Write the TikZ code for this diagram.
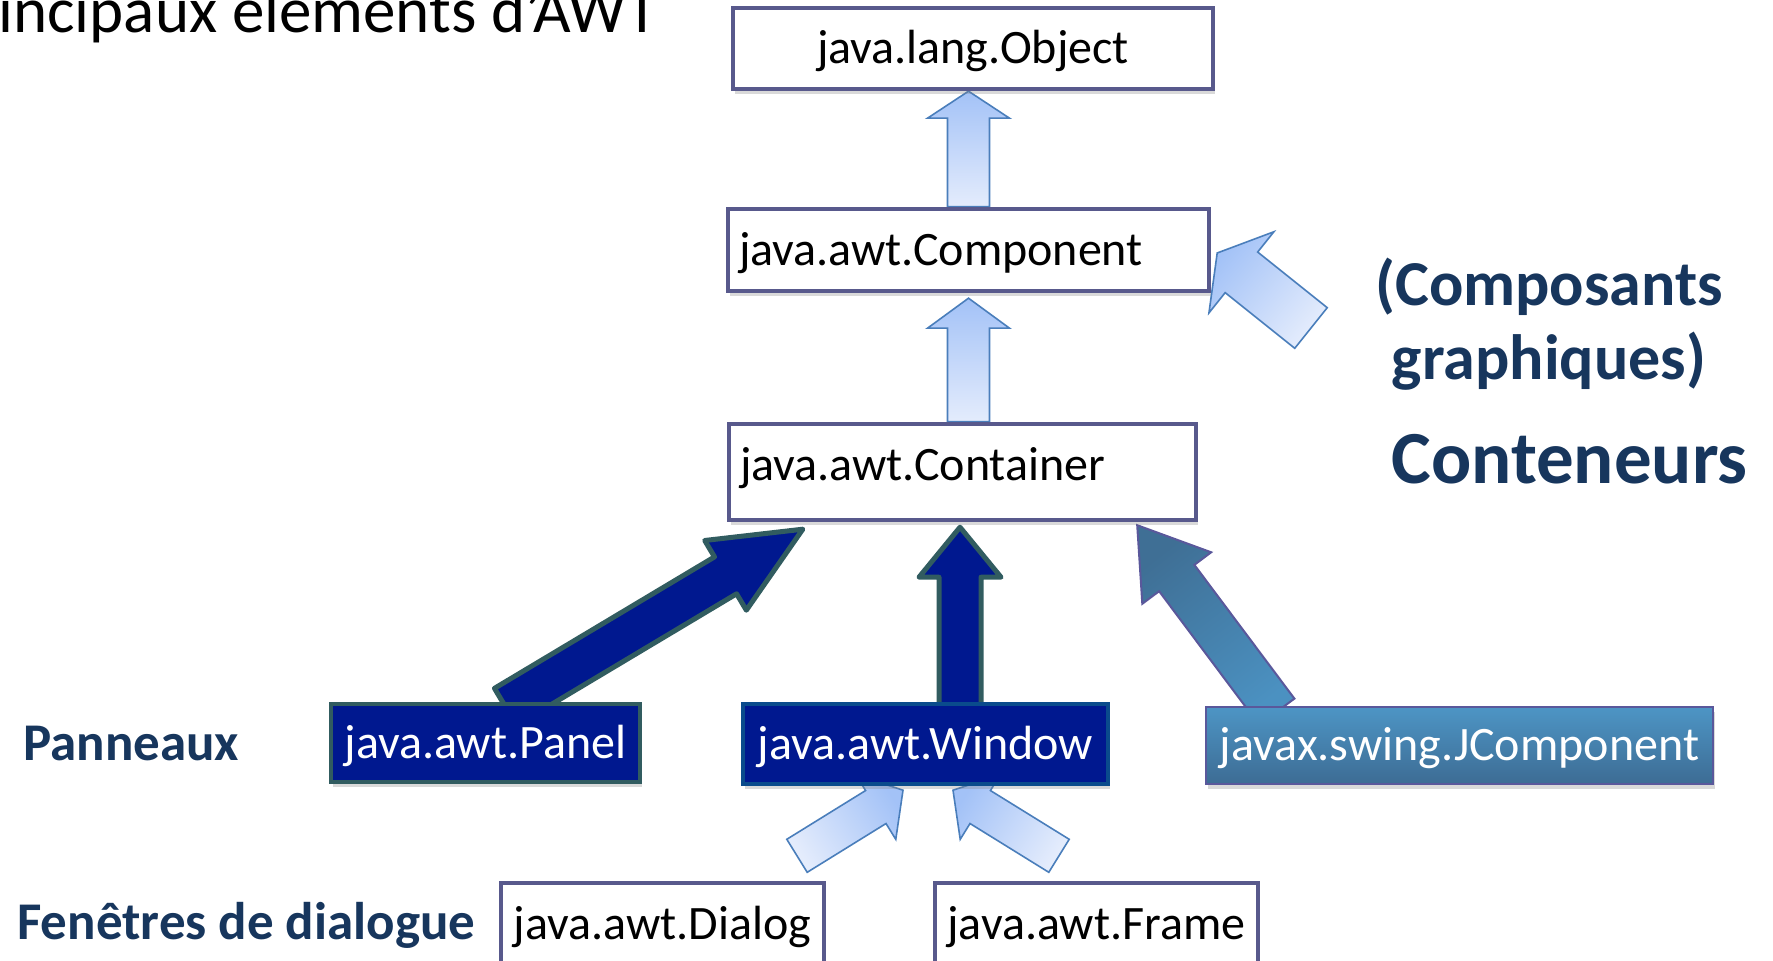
\documentclass[tikz,border=0pt]{standalone}
\usepackage{fontspec}
\setmainfont{Carlito}
\usetikzlibrary{calc,shadows,backgrounds}

\definecolor{boxline}{RGB}{88,89,140}
\definecolor{navy}{RGB}{0,24,143}
\definecolor{tealline}{RGB}{49,92,96}
\definecolor{winline}{RGB}{10,75,140}
\definecolor{arrlight}{RGB}{163,194,247}
\definecolor{arrpale}{RGB}{228,236,252}
\definecolor{arrline}{RGB}{74,126,187}
\definecolor{jtop}{RGB}{77,149,197}
\definecolor{jbot}{RGB}{61,108,148}
\definecolor{jline}{RGB}{90,88,155}
\definecolor{jarrtop}{RGB}{63,111,149}
\definecolor{jarrbot}{RGB}{75,145,193}
\definecolor{lbltext}{RGB}{23,54,93}

% block arrow: [style]{tail}{tip}{half shaft}{half head}{head length}
\newcommand{\blockarrow}[6][]{%
  \coordinate (ba-t) at (#2);
  \coordinate (ba-h) at (#3);
  \coordinate (ba-b) at ($(ba-h)!#6!(ba-t)$);
  \path[#1] ($(ba-t)!#4!90:(ba-h)$) -- ($(ba-b)!#4!-90:(ba-t)$)
    -- ($(ba-b)!#5!-90:(ba-t)$) -- (ba-h) -- ($(ba-b)!#5!90:(ba-t)$)
    -- ($(ba-b)!#4!90:(ba-t)$) -- ($(ba-t)!#4!-90:(ba-h)$) -- cycle;
}

\begin{document}
\begin{tikzpicture}[x=0.5pt,y=-0.5pt,
  cls/.style={draw=boxline, line width=2.2pt, fill=white, inner sep=5.5pt,
    font=\fontsize{24}{28}\selectfont, text height=20pt, text depth=4.8pt,
    drop shadow={shadow xshift=1pt, shadow yshift=-2.5pt, opacity=0.3}},
  dark/.style={cls, fill=navy, text=white},
  lbl/.style={font=\bfseries\fontsize{26.5}{32}\selectfont, text=lbltext, inner sep=0pt},
  lightarr/.style={draw=arrline, line width=0.8pt, top color=arrlight,
    bottom color=arrpale, shading angle=#1},
  lightarr/.default=0,
  darkarr/.style={draw=tealline, fill=navy, line width=2.5pt, line join=round},
  jarr/.style={draw=jline, line width=1pt, top color=jarrtop,
    bottom color=jarrbot, shading angle=38}]
\useasboundingbox (0,0) rectangle (1773,961);
\clip (0,0) rectangle (1773,961);

\node[anchor=base west, inner sep=0pt, font=\fontsize{32.5}{38}\selectfont] (titre) at (-2,33) {incipaux éléments d’AWT};

\node[cls, minimum width=240pt, minimum height=40.5pt] (obj) at (973,48.5) {java.lang.Object};
\node[cls, text width=229.5pt, minimum height=41pt, align=left] (comp) at (968.5,250) {java.awt.Component};
\node[cls, text width=222.5pt, minimum height=48pt, align=left, text height=14.4pt, text depth=5.8pt] (cont) at (962.5,472) {java.awt.Container};
\node[dark, draw=tealline, minimum width=154.5pt, minimum height=39pt] (panel) at (485.5,743) {java.awt.Panel};
\node[dark, draw=winline, minimum width=182.5pt, minimum height=40pt] (win) at (925.5,744) {java.awt.Window};
\node[cls, draw=jline, line width=1.2pt, top color=jtop, bottom color=jbot, text=white,
  minimum width=253.5pt, minimum height=38.5pt] (jcomp) at (1459.5,745.5) {javax.swing.JComponent};
\node[cls, minimum width=161.5pt, minimum height=41pt] (dlg) at (662.5,924) {java.awt.Dialog};
\node[cls, minimum width=161.5pt, minimum height=41pt] (frm) at (1096.5,924) {java.awt.Frame};

\node[lbl, anchor=base west] (pann) at (23,761) {Panneaux};
\node[lbl, anchor=base west] (fen) at (17,940) {Fenêtres de dialogue};
\node[lbl, font=\bfseries\fontsize{32}{37}\selectfont, align=center] (compg) at (1549,324) {(Composants\\graphiques)};
\node[lbl, font=\bfseries\fontsize{37.5}{44}\selectfont, anchor=base west] (conten) at (1391,484) {Conteneurs};

\begin{scope}[on background layer]
\blockarrow[lightarr]{comp.north}{comp.north |- obj.south}{10.5pt}{20.5pt}{13.5pt}
\blockarrow[lightarr]{comp.south |- cont.north}{$(comp.south)+(0,5)$}{10.5pt}{20.5pt}{15pt}
\coordinate (cgtail) at (1311,328);
\blockarrow[lightarr=50]{cgtail}{$(comp.east)+(6,3)$}{13pt}{26pt}{15.5pt}
\blockarrow[darkarr]{$(panel.north)+(20,5)$}{$(cont.south west)+(76,7)$}{10.75pt}{20.3pt}{45pt}
\blockarrow[darkarr]{$(win.north)+(34.5,10)$}{$(cont.south)+(-2.5,5)$}{10.5pt}{20.5pt}{25pt}
\blockarrow[jarr]{$(jcomp.north west)+(72,6)$}{$(cont.south east)+(-61,3)$}{11pt}{21.5pt}{33pt}
\blockarrow[lightarr=-57]{$(dlg.north)+(134.5,-25)$}{$(win.south)+(-22.5,4)$}{9.7pt}{19pt}{16pt}
\blockarrow[lightarr=57]{$(frm.north)+(-37.5,-25)$}{$(win.south)+(27.5,4)$}{9.7pt}{19pt}{16pt}
\end{scope}
\end{tikzpicture}
\end{document}
